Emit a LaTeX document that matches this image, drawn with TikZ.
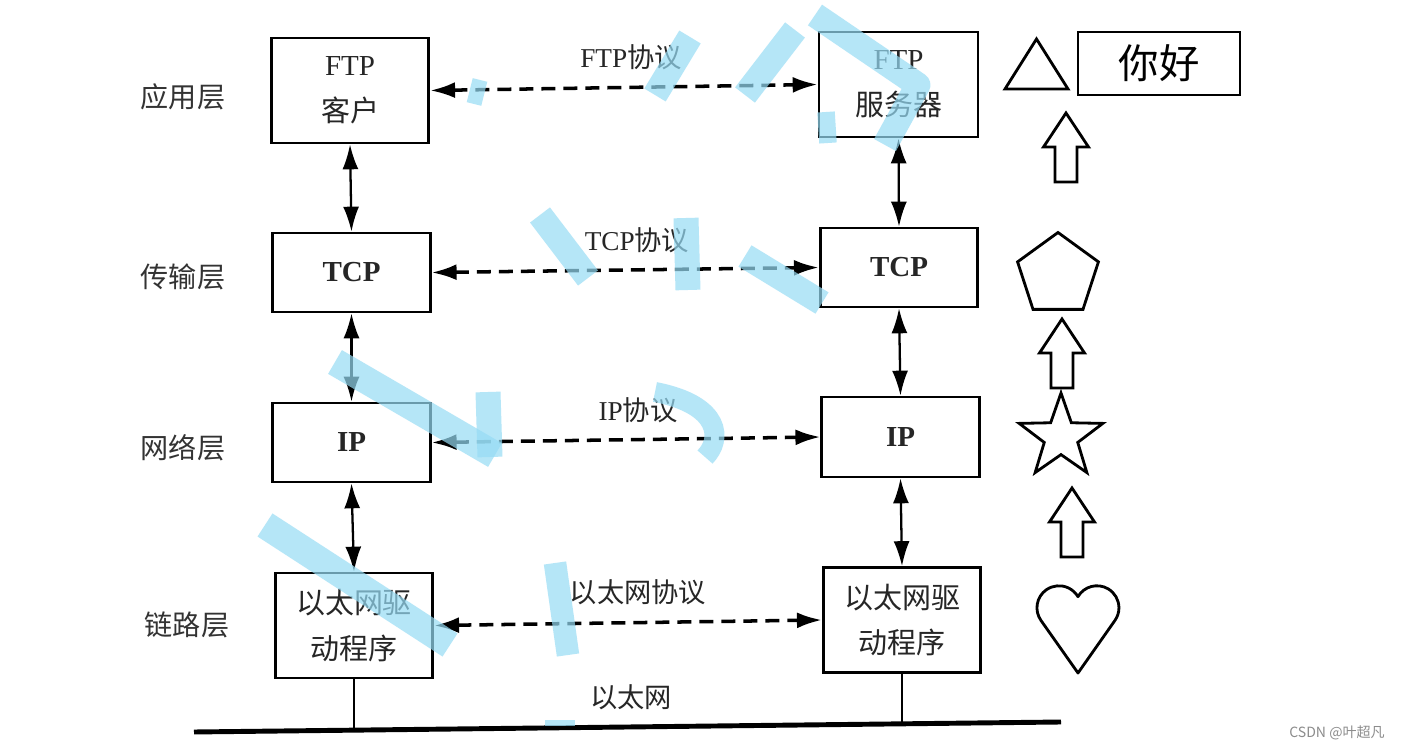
\documentclass[tikz,border=0pt]{standalone}
\usepackage{fontspec}
\setmainfont{Liberation Serif}
\newfontfamily\cjk{Noto Sans CJK SC}
\usepackage{xcolor}
\usepackage{tikz}
\usetikzlibrary{arrows.meta,positioning,shapes.geometric}
\definecolor{wmblue}{RGB}{150,220,245}
\newcommand{\zh}[1]{{\cjk #1}}

\begin{document}
\begin{tikzpicture}[
  box/.style={rectangle, draw, line width=1.5pt, minimum width=3.15cm, minimum height=2.1cm, align=center, font=\fontsize{16.5}{26}\selectfont, text=black!85},
  lowbox/.style={box, minimum height=1.58cm},
  layer/.style={font=\cjk\fontsize{16}{18}\selectfont, text=black!80},
  proto/.style={font=\fontsize{15.5}{18}\selectfont, text=black!85},
  link/.style={{Latex[length=5mm,width=3.2mm]}-{Latex[length=5mm,width=3.2mm]}, line width=1.3pt},
  peer/.style={link, line width=2pt, dash pattern=on 0.28cm off 0.16cm},
  outline/.style={draw, line width=1.6pt, line join=miter},
  wm/.style={wmblue, opacity=0.7, line width=0.5cm},
  uparrow/.pic={\draw[outline] (0,0) -- (0.45,-0.68) -- (0.22,-0.68) -- (0.22,-1.38) -- (-0.22,-1.38) -- (-0.22,-0.68) -- (-0.45,-0.68) -- cycle;}
]

\path[use as bounding box, fill=white] (0,0) rectangle (28.02,-15.02);

% Layer names
\node[layer] (lApp) at (3.66,-1.94) {应用层};
\node[layer] (lTrans) at (3.66,-5.54) {传输层};
\node[layer] (lNet) at (3.66,-8.96) {网络层};
\node[layer] (lLink) at (3.74,-12.50) {链路层};

% Client stack
\node[box] (cli) at (7.00,-1.81) {FTP\\\zh{客户}};
\node[lowbox] (tcpL) at (7.03,-5.45) {\textbf{TCP}};
\node[lowbox] (ipL) at (7.03,-8.85) {\textbf{IP}};
\node[box] (ethL) at (7.08,-12.51) {\zh{以太网驱}\\\zh{动程序}};

% Server stack
\node[box, minimum width=3.18cm] (srv) at (17.97,-1.69) {FTP\\\zh{服务器}};
\node[lowbox] (tcpR) at (17.98,-5.35) {\textbf{TCP}};
\node[lowbox, minimum height=1.6cm] (ipR) at (18.01,-8.74) {\textbf{IP}};
\node[box] (ethR) at (18.04,-12.40) {\zh{以太网驱}\\\zh{动程序}};

% Protocol labels
\node[proto] (pFtp) at (12.62,-1.14) {FTP\zh{协议}};
\node[proto] (pTcp) at (12.74,-4.80) {TCP\zh{协议}};
\node[proto] (pIp) at (12.76,-8.20) {IP\zh{协议}};
\node[proto] (pEth) at (12.76,-11.84) {\zh{以太网协议}};
\node[proto] (lan) at (12.62,-13.94) {\zh{以太网}};

% Vertical arrows
\draw[link] (cli.south) -- (tcpL.north);
\draw[link] (tcpL.south) -- (ipL.north);
\draw[link] (ipL.south) -- (ethL.north);
\draw[link] (srv.south) -- (tcpR.north);
\draw[link] (tcpR.south) -- (ipR.north);
\draw[link] (ipR.south) -- (ethR.north);

% Peer protocols
\draw[peer] (cli.east) -- (srv.west);
\draw[peer] (tcpL.east) -- (tcpR.west);
\draw[peer] (ipL.east) -- (ipR.west);
\draw[peer] (ethL.east) -- (ethR.west);

% Ethernet bus
\coordinate (busW) at (3.88,-14.64);
\coordinate (busE) at (21.22,-14.44);
\draw[line width=2.8pt] (busW) -- (busE);
\draw[line width=0.8pt] (ethL.south) -- (ethL.south |- busW);
\draw[line width=0.8pt] (ethR.south) -- (ethR.south |- busE);

% Shapes on the right
\draw[outline] (20.10,-1.78) -- (21.36,-1.78) -- (20.73,-0.78) -- cycle;
\node[outline, minimum width=3.24cm, minimum height=1.26cm, font=\cjk\fontsize{23}{25}\selectfont] (hello) at (23.18,-1.27) {你好};
\pic at (21.32,-2.26) {uparrow};
\node[outline, regular polygon, regular polygon sides=5, minimum size=1.7cm, inner sep=0pt] (pent) at (21.16,-5.50) {};
\pic at (21.24,-6.38) {uparrow};
\node[outline, star, star points=5, star point ratio=2.5, minimum size=1.76cm, inner sep=0pt] (star) at (21.22,-8.74) {};
\pic at (21.44,-9.76) {uparrow};
\draw[outline, line join=round] (21.56,-13.46) -- (20.82,-12.41) arc[start angle=215.3, end angle=30.3, radius=0.44] arc[start angle=149.7, end angle=-35.3, radius=0.44] -- cycle;

% watermark
\draw[wm] (13.80,-0.74) -- (13.10,-1.90);
\draw[wm] (15.90,-0.60) -- (14.90,-1.90);
\draw[wm, line join=round] (16.30,-0.30) -- (18.36,-1.70) -- (17.70,-2.90);
\draw[wm, line width=0.35cm] (16.52,-2.24) -- (16.56,-2.86);
\draw[wm, line width=0.3cm] (9.60,-1.60) -- (9.48,-2.08);
\draw[wm] (10.80,-4.30) -- (11.76,-5.56);
\draw[wm] (13.72,-4.36) -- (13.76,-5.80);
\draw[wm] (14.90,-5.12) -- (16.44,-6.06);
\draw[wm, line width=0.55cm] (6.70,-7.24) -- (9.90,-9.10);
\draw[wm] (9.76,-7.84) -- (9.80,-9.14);
\draw[wm, line width=0.4cm] (13.10,-7.84) .. controls (14.44,-8.10) and (14.44,-8.80) .. (14.10,-9.14);
\draw[wm, line width=0.55cm] (5.30,-10.50) -- (9.00,-12.90);
\draw[wm, line width=0.45cm] (11.10,-11.26) -- (11.36,-13.10);
\draw[wm, line width=0.12cm] (10.90,-14.46) -- (11.50,-14.46);

\node[font=\cjk\fontsize{8}{9}\selectfont, text=black!45] (mark) at (26.74,-14.66) {CSDN @叶超凡};

\end{tikzpicture}
\end{document}
